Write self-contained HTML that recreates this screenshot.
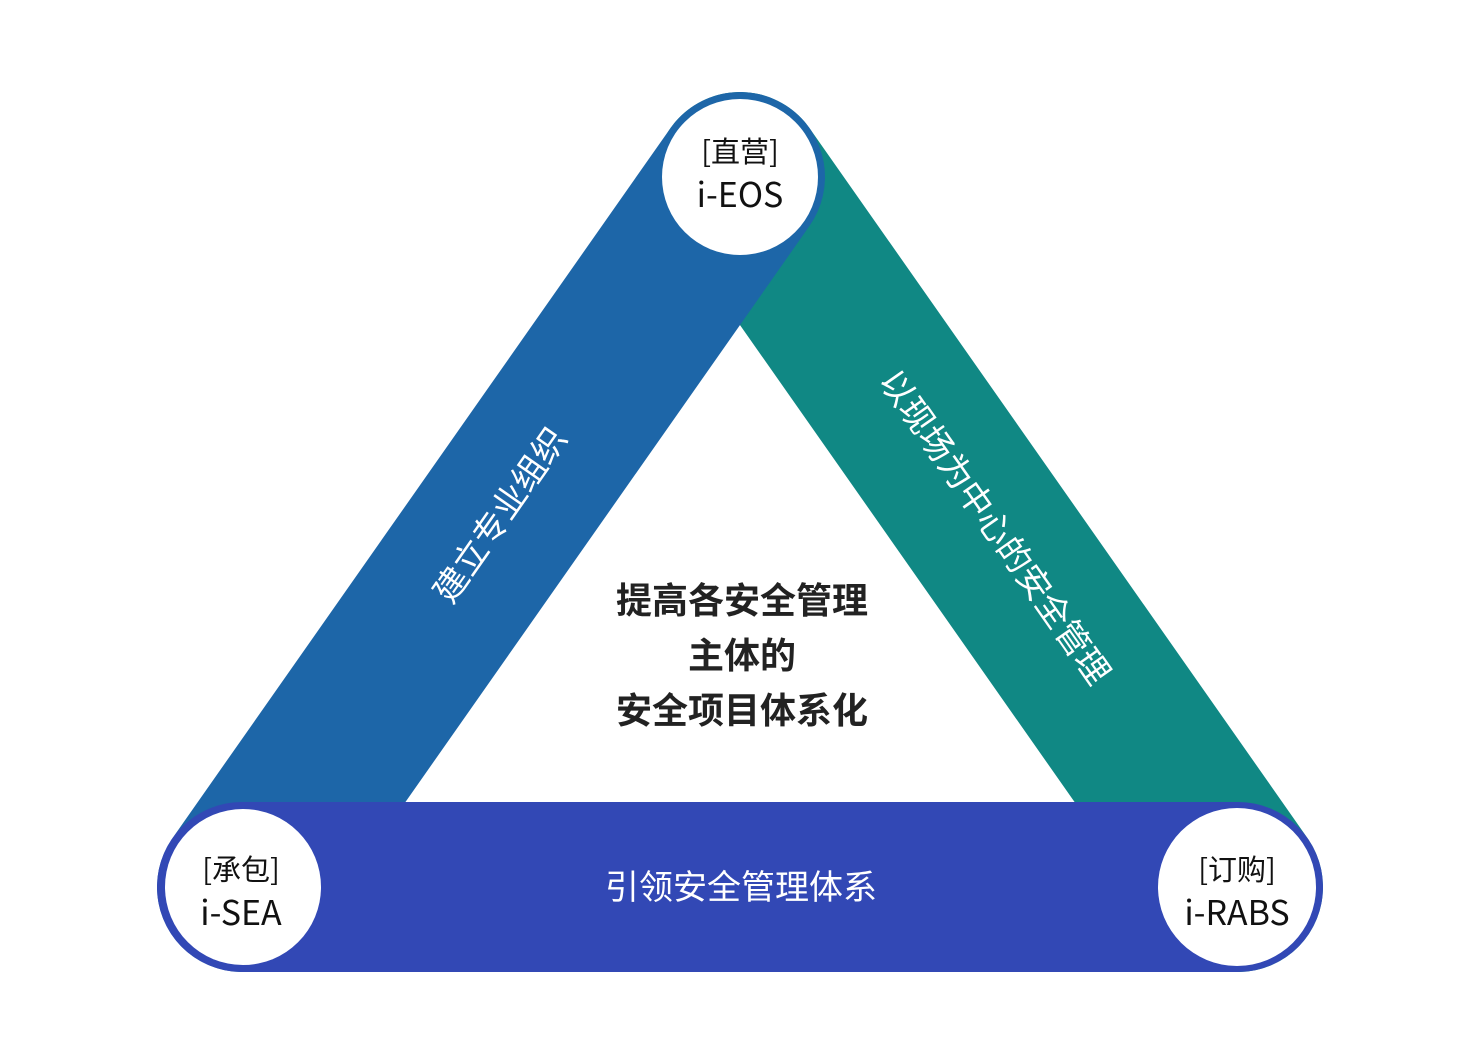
<!DOCTYPE html>
<html><head><meta charset="utf-8"><style>
html,body{margin:0;padding:0;background:#fff;}
svg{display:block;}
text{font-family:"Noto Sans CJK SC","Liberation Sans",sans-serif;}
</style></head><body>
<svg width="1478" height="1056" viewBox="0 0 1478 1056" xmlns="http://www.w3.org/2000/svg">
<rect width="1478" height="1056" fill="#fff"/>
<line x1="740" y1="177" x2="1238" y2="887" stroke="#108884" stroke-width="170" stroke-linecap="round"/>
<line x1="740" y1="177" x2="242" y2="887" stroke="#1d66a8" stroke-width="170" stroke-linecap="round"/>
<line x1="242" y1="887" x2="1238" y2="887" stroke="#3248b5" stroke-width="170" stroke-linecap="round"/>
<circle cx="740" cy="177" r="78" fill="#fff"/>
<circle cx="243" cy="887" r="78" fill="#fff"/>
<circle cx="1237" cy="887" r="79" fill="#fff"/>
<g fill="#111" text-anchor="middle">
<text x="740" y="162" font-size="29">[直营]</text>
<text x="740" y="207" font-size="34">i-EOS</text>
<text x="241" y="880" font-size="29">[承包]</text>
<text x="241" y="925" font-size="34">i-SEA</text>
<text x="1237" y="880" font-size="29">[订购]</text>
<text x="1237" y="925" font-size="34">i-RABS</text>
</g>
<g fill="#fff" text-anchor="middle" font-size="34">
<text x="0" y="12" transform="translate(500,515) rotate(-55)">建立专业组织</text>
<text x="0" y="12" transform="translate(995,527) rotate(55)">以现场为中心的安全管理</text>
<text x="741" y="899">引领安全管理体系</text>
</g>
<g fill="#222" text-anchor="middle" font-size="36" font-weight="bold">
<text x="742" y="613">提高各安全管理</text>
<text x="742" y="668">主体的</text>
<text x="742" y="723">安全项目体系化</text>
</g>
</svg>
</body></html>
